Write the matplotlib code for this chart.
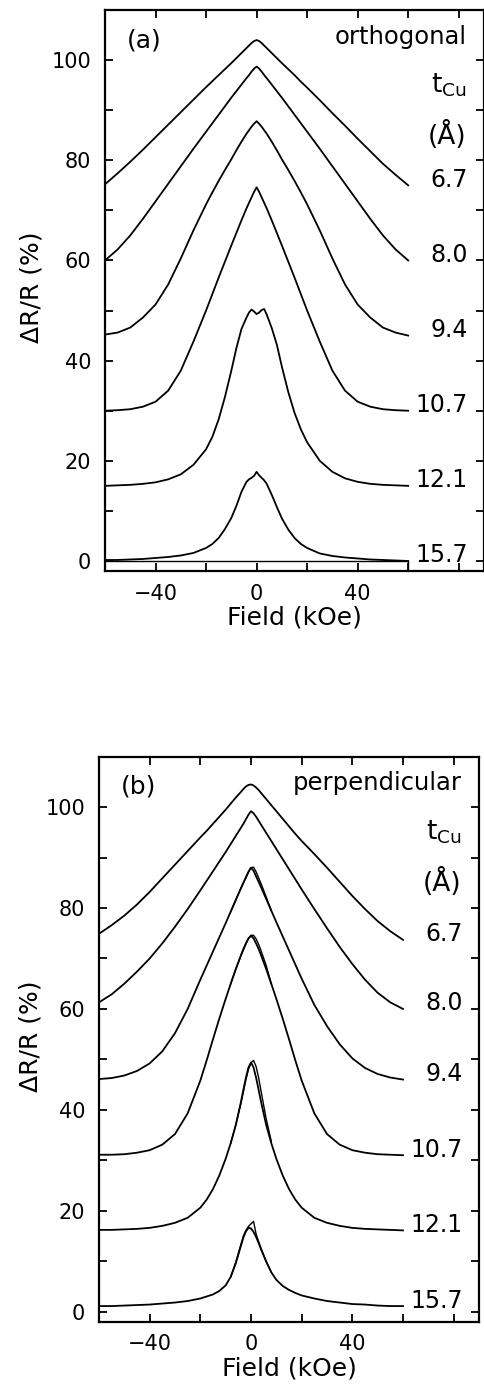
import numpy as np
import matplotlib
matplotlib.use('Agg')
import matplotlib.pyplot as plt

field = [-60, -55, -50, -45, -40, -35, -30, -25, -20, -17.5, -15, -12.5, -10, -8, -6, -4, -3, -2, -1,
         0, 1, 2, 3, 4, 6, 8, 10, 12.5, 15, 17.5, 20, 25, 30, 35, 40, 45, 50, 55, 60]

t_cu = ['6.7', '8.0', '9.4', '10.7', '12.1', '15.7']

# (a) orthogonal
orth_67 = [75.2, 77.4, 79.7, 82.1, 84.6, 87.1, 89.6, 92.1, 94.6, 95.8, 97.0, 98.2, 99.4, 100.4, 101.4, 102.4, 102.9, 103.4, 103.8,
           104.0, 103.8, 103.4, 102.9, 102.4, 101.4, 100.4, 99.4, 98.2, 97.0, 95.7, 94.5, 92.0, 89.4, 86.9, 84.3, 81.8, 79.3, 77.1, 75.0]
orth_80 = [60.0, 62.2, 65.0, 68.3, 71.8, 75.3, 78.8, 82.3, 85.7, 87.4, 89.1, 90.8, 92.5, 93.8, 95.1, 96.4, 97.0, 97.7, 98.3,
           98.7, 98.3, 97.7, 97.0, 96.4, 95.1, 93.8, 92.5, 90.8, 89.1, 87.4, 85.7, 82.3, 78.8, 75.3, 71.8, 68.3, 65.0, 62.2, 60.0]
orth_94 = [45.2, 45.6, 46.6, 48.6, 51.2, 55.2, 60.4, 66.0, 71.2, 73.6, 75.9, 78.1, 80.2, 82.0, 83.7, 85.3, 86.0, 86.7, 87.3,
           87.8, 87.3, 86.7, 86.0, 85.3, 83.7, 82.0, 80.2, 78.1, 75.9, 73.6, 71.2, 66.0, 60.4, 55.2, 51.2, 48.6, 46.6, 45.6, 45.0]
orth_107 = [30.0, 30.1, 30.3, 30.8, 31.8, 34.0, 38.0, 43.8, 50.0, 53.3, 56.6, 59.8, 63.0, 65.5, 68.0, 70.4, 71.5, 72.6, 73.7,
            74.6, 73.7, 72.6, 71.5, 70.4, 68.0, 65.5, 63.0, 59.8, 56.6, 53.3, 50.0, 43.8, 38.0, 34.0, 31.8, 30.8, 30.3, 30.1, 30.0]
orth_121 = [15.0, 15.1, 15.2, 15.4, 15.7, 16.3, 17.3, 19.2, 22.3, 24.8, 28.3, 32.8, 38.0, 42.5, 46.3, 48.6, 49.6, 50.2, 49.8,
            49.3, 49.6, 50.1, 50.3, 49.2, 46.5, 43.2, 38.8, 33.8, 29.6, 26.3, 23.7, 20.0, 17.8, 16.5, 15.8, 15.4, 15.2, 15.1, 15.0]
orth_157 = [0.2, 0.2, 0.3, 0.4, 0.6, 0.8, 1.1, 1.6, 2.6, 3.4, 4.6, 6.4, 8.6, 11.0, 13.8, 15.8, 16.3, 16.6, 17.0,
            17.8, 17.1, 16.6, 16.1, 15.4, 13.2, 10.8, 8.5, 6.3, 4.6, 3.4, 2.6, 1.5, 1.0, 0.7, 0.5, 0.3, 0.2, 0.1, 0.0]

# (b) perpendicular
perp_67 = [74.9, 76.6, 78.5, 80.7, 83.2, 85.9, 88.6, 91.3, 94.0, 95.3, 96.7, 98.1, 99.5, 100.7, 101.9, 103.0, 103.6, 104.1, 104.4,
           104.5, 104.3, 103.9, 103.4, 102.8, 101.6, 100.4, 99.2, 97.7, 96.2, 94.7, 93.3, 90.7, 88.0, 85.2, 82.4, 79.8, 77.4, 75.4, 73.7]
perp_80 = [61.3, 62.9, 65.0, 67.4, 70.0, 73.0, 76.3, 79.8, 83.5, 85.4, 87.3, 89.2, 91.1, 92.7, 94.3, 95.9, 96.7, 97.6, 98.5,
           99.2, 98.8, 98.1, 97.3, 96.5, 94.9, 93.3, 91.7, 89.7, 87.7, 85.7, 83.7, 79.8, 76.0, 72.3, 68.9, 65.8, 63.2, 61.3, 60.0]
perp_94 = [46.1, 46.3, 46.8, 47.7, 49.2, 51.6, 55.2, 60.0, 65.8, 68.6, 71.4, 74.2, 77.0, 79.3, 81.6, 83.9, 85.0, 86.1, 87.2,
           88.0, 87.4, 86.3, 85.2, 84.1, 81.8, 79.5, 77.2, 74.4, 71.6, 68.8, 66.0, 60.8, 56.6, 53.0, 50.2, 48.3, 47.1, 46.4, 46.0]
perp_107 = [31.1, 31.1, 31.2, 31.5, 32.0, 33.1, 35.2, 39.3, 45.8, 49.8, 54.0, 58.1, 62.0, 65.0, 67.9, 70.6, 71.9, 73.0, 74.0,
            74.5, 74.0, 73.0, 71.9, 70.6, 67.9, 65.0, 62.0, 58.1, 54.0, 49.8, 45.8, 39.3, 35.2, 33.1, 32.0, 31.5, 31.2, 31.1, 31.0]
perp_121 = [16.2, 16.2, 16.3, 16.4, 16.6, 17.0, 17.6, 18.6, 20.6, 22.2, 24.3, 27.0, 30.3, 33.4, 37.0, 41.5, 44.0, 46.4, 48.4,
            49.4, 48.4, 46.4, 44.0, 41.5, 37.0, 33.4, 30.3, 27.0, 24.3, 22.2, 20.6, 18.6, 17.6, 17.0, 16.6, 16.4, 16.3, 16.2, 16.1]
perp_157 = [1.1, 1.1, 1.2, 1.3, 1.4, 1.6, 1.8, 2.1, 2.6, 3.0, 3.4, 4.1, 5.2, 6.9, 9.6, 13.0, 14.7, 15.9, 16.6,
            16.5, 15.8, 14.8, 13.6, 12.3, 9.9, 7.8, 6.3, 5.1, 4.3, 3.7, 3.2, 2.6, 2.1, 1.8, 1.5, 1.4, 1.2, 1.1, 1.1]

# second sweep in (b), only separable near zero field
field_b2 = [-8, -6, -4, -3, -2, -1, 0, 1, 2, 3, 4, 6, 8]
perp_94_b = [79.3, 81.6, 83.9, 85.0, 86.0, 87.1, 88.0, 88.1, 87.2, 86.0, 84.8, 82.2, 79.5]
perp_107_b = [65.0, 67.9, 70.5, 71.7, 72.9, 73.9, 74.6, 74.6, 73.9, 72.8, 71.5, 68.6, 65.0]
perp_121_b = [33.4, 37.0, 41.2, 43.6, 46.0, 48.0, 49.3, 49.8, 48.6, 46.4, 43.6, 38.2, 33.8]
perp_157_b = [6.9, 9.8, 13.3, 15.0, 16.1, 16.9, 17.4, 17.9, 15.4, 13.9, 12.5, 10.0, 7.8]

orth = [orth_67, orth_80, orth_94, orth_107, orth_121, orth_157]
perp = [perp_67, perp_80, perp_94, perp_107, perp_121, perp_157]
perp2 = [perp_94_b, perp_107_b, perp_121_b, perp_157_b]

plt.rcParams['font.family'] = 'DejaVu Sans'
fig = plt.figure(figsize=(4.85, 13.84), dpi=100)
ax_a = fig.add_axes([105 / 485, 1 - 571 / 1384, 379 / 485, 561 / 1384])
ax_b = fig.add_axes([99 / 485, 1 - 1321.7 / 1384, 380 / 485, 565 / 1384])


def style(ax, ylab_x):
    ax.set_xlim(-60, 90)
    ax.set_ylim(-2, 110)
    ax.set_xticks([-40, -20, 0, 20, 40, 60, 80])
    ax.set_xticklabels(['\u221240', '', '0', '', '40', '', ''])
    ax.set_yticks(range(0, 110, 10))
    ax.set_yticklabels([str(v) if v % 20 == 0 else '' for v in range(0, 110, 10)])
    ax.tick_params(direction='in', length=6, width=1.3, top=True, right=True, labelsize=15)
    ax.tick_params(axis='x', pad=9)
    ax.tick_params(axis='y', pad=10)
    for s in ax.spines.values():
        s.set_linewidth(1.6)
    ax.set_xlabel('Field (kOe)', fontsize=18, va='center')
    ax.set_ylabel('\u0394R/R (%)', fontsize=18, va='center')
    ax.xaxis.set_label_coords(0.5, -0.082)
    ax.yaxis.set_label_coords(ylab_x, 0.505)


for ax, curves, panel, geom, ylx in [(ax_a, orth, '(a)', 'orthogonal', -0.195),
                                     (ax_b, perp, '(b)', 'perpendicular', -0.18)]:
    style(ax, ylx)
    for vals, lab in zip(curves, t_cu):
        ax.plot(field, vals, color='black', lw=1.3)
        ax.text(83.5, vals[-1] - 0.3, lab, ha='right', va='baseline', fontsize=17)
    ax.text(-51.5, 104.0, panel, ha='left', va='center', fontsize=18)
    ax.text(83.0, 103.3, geom, ha='right', va='baseline', fontsize=17.5)
    ax.text(83.0, 93.6, r'$\mathregular{t_{Cu}}$', ha='right', va='baseline', fontsize=19)
    ax.text(83.0, 83.3, '(\u00c5)', ha='right', va='baseline', fontsize=19)

for vals in perp2:
    ax_b.plot(field_b2, vals, color='black', lw=1.0)

# baseline frame under the lowest trace in (a)
ax_a.plot([field[0], field[-1], field[-1]], [orth_157[-1], orth_157[-1], -2], color='black', lw=1.0)

fig.savefig('out.png', dpi=100)
